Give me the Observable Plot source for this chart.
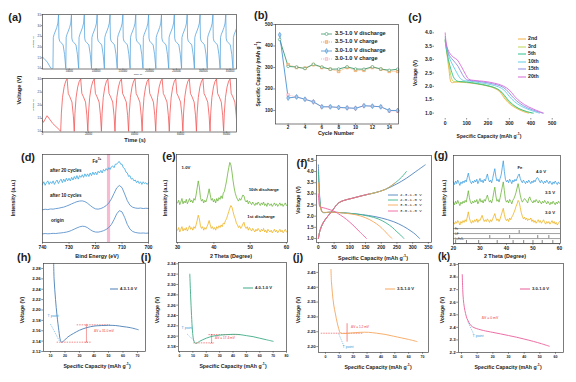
<!DOCTYPE html>
<html><head><meta charset="utf-8">
<script src="https://cdn.jsdelivr.net/npm/d3@7"></script>
<script src="https://cdn.jsdelivr.net/npm/@observablehq/plot@0.6"></script>
<style>
body{margin:0;background:#fff;}
#root{position:relative;width:576px;height:382px;overflow:hidden;background:#fff;font-family:"Liberation Sans",Arial,sans-serif;}
.t{position:absolute;white-space:nowrap;line-height:1;color:#222;}
#root svg{position:absolute;overflow:visible;}
</style></head><body><div id="root"></div><script>
const root = document.getElementById('root');
const FONT = "Liberation Sans, Arial, sans-serif";

// ================= DATA =================
// (a) galvanostatic curves (top: 3.5-1.0 V, bottom: 3.0-1.0 V)
const aTopStartT = [0, 3000, 9000, 16000, 19000];
const aTopStartV = [1.53, 1.47, 1.3, 1.0, 1.0];
const aTopPeaks = [30000, 54000, 78000, 102000, 126000, 150000, 174000, 198000, 222000, 246000, 270000, 294000, 318000, 342000, 366000];
const aTopChargeDt = [-10500, -9800, -8200, -5800, -3300, -1300, 0];
const aTopChargeV = [1.0, 2.45, 2.6, 2.75, 2.92, 3.12, 3.5];
const aTopDisDt = [700, 2000, 5000, 8500, 11200, 13500];
const aTopDisV = [2.42, 2.28, 2.2, 2.1, 1.65, 1.0];
const aTopXTicks = [50000, 100000, 150000, 200000, 250000, 300000, 350000];
const aTopYTicks = [1.0, 1.5, 2.0, 2.5, 3.0, 3.5];

const aBotStartT = [0, 400, 2000, 4500, 7500];
const aBotStartV = [1.42, 1.35, 1.6, 1.3, 1.05];
const aBotPeaks = [10700, 16600, 22500, 28400, 34300, 40200, 46100, 52000, 57900, 63800, 69700, 75600, 81500, 87400];
const aBotChargeDt = [-2800, -2500, -2000, -1300, -600, 0];
const aBotChargeV = [1.0, 1.7, 2.3, 2.7, 2.92, 3.0];
const aBotDisDt = [500, 1200, 2100, 2700, 3100];
const aBotDisV = [2.45, 2.32, 2.12, 1.6, 1.0];
const aBotXTicks = [0, 20000, 40000, 60000, 80000];
const aBotYTicks = [1.0, 1.5, 2.0, 2.5, 3.0];

// (b) cycling
const bCycles = [1,2,3,4,5,6,7,8,9,10,11,12,13,14,15];
const b35Dis = [430,305,302,295,315,302,292,293,303,293,292,303,293,287,292];
const b35Chg = [null,313,300,297,313,300,292,282,300,287,287,300,292,282,282];
const b30Dis = [452,158,163,152,140,117,117,114,112,110,122,120,117,100,100];
const b30Chg = [null,172,163,152,140,117,117,114,112,110,122,120,117,98,97];
const bXTicks = [2,4,6,8,10,12,14];
const bYTicks = [100,200,300,400,500];

// (c) discharge curves
const cLabels = ["2nd","3rd","5th","10th","15th","20th"];
const cColors = ["#f2b143","#bcd654","#2fbf8f","#62cfe6","#8b8fe2","#d66bd8"];
const cCap = [
  [0,4,10,18,25,30,50,100,150,200,230,255,280,305,335,365,390],
  [0,5,12,22,32,40,60,100,150,200,235,260,285,310,340,375,405],
  [0,5,15,28,42,55,70,100,150,200,240,265,290,315,345,380,412],
  [0,6,18,35,55,70,85,120,160,210,250,275,300,325,355,395,440],
  [0,6,20,40,60,80,100,130,170,220,260,285,310,335,365,405,455],
  [0,6,20,40,55,75,95,110,140,180,230,270,300,320,340,370,410,440,460]];
const cVolt = [
  [3.75,3.5,3.1,2.6,2.2,2.14,2.16,2.14,2.09,2.01,1.93,1.8,1.52,1.32,1.17,1.06,1.0],
  [3.7,3.45,3.05,2.6,2.25,2.18,2.18,2.16,2.11,2.03,1.94,1.8,1.53,1.33,1.18,1.07,1.0],
  [3.7,3.4,3.0,2.6,2.3,2.2,2.18,2.16,2.1,2.02,1.92,1.78,1.53,1.33,1.17,1.06,1.0],
  [3.75,3.45,3.1,2.8,2.5,2.3,2.22,2.19,2.14,2.07,1.98,1.86,1.62,1.42,1.26,1.12,1.0],
  [3.85,3.5,3.15,2.95,2.75,2.45,2.25,2.21,2.17,2.1,2.01,1.88,1.65,1.45,1.28,1.13,1.0],
  [4.0,3.55,3.25,3.08,3.0,2.75,2.45,2.27,2.22,2.19,2.12,2.02,1.86,1.67,1.5,1.32,1.16,1.06,1.0]];
const cXTicks = [0,100,200,300,400,500];
const cYTicks = [1.0,1.5,2.0,2.5,3.0,3.5,4.0];

// (d) XPS Fe 2p, 740 -> 700 eV
const dOrigin = [9.8,10.2,9.9,10.1,10.4,10.2,10.6,10.9,11.3,11.8,12.6,13.8,15.2,16.6,17.8,18.5,18.2,16.8,14.6,12.8,11.9,11.8,12.4,13.4,14.8,17.0,20.5,26.0,32.5,36.2,34.8,28.5,20.5,15.2,12.6,11.4,10.9,10.6,10.8,10.5,10.7];
const d10 = [37.2,37.8,37.4,38.1,37.9,38.5,38.9,39.6,40.2,41.3,42.5,43.9,45.2,46.4,47.1,47.3,46.5,44.6,42.1,39.8,38.2,37.9,38.6,39.9,41.8,44.9,49.5,55.8,62.0,64.8,62.4,55.2,47.5,42.4,40.1,39.2,38.8,39.1,38.6,38.9,38.7];
const d20 = [66,69,65,68,70,66,69,67,70,66,69,71,67,70,72,68,72,69,73,70,73,70,74,71,75,72,76,72,76,74,77,74,78,75,78,75,79,76,80,77,80,77,81,79,82,79,83,81,84,82,85,83,86,87,85,89,89,91,92,89,89,85,84,80,79,75,76,72,73,70,71,68,70,67,69,66,69,67,68,66,68];
const dBand = [714.3, 715.5];
const dXTicks = [740,730,720,710,700];

// (e) XRD 30-60 deg, step 0.3
const eOrange = [14,17,12,15,18,13,16,14,17,13,16,19,15,17,14,18,16,20,25,31,27,19,16,18,14,17,15,18,21,25,20,16,18,15,17,14,18,16,19,17,20,18,22,21,25,27,31,35,39,42,40,35,30,27,22,20,17,19,16,18,21,23,18,16,18,14,17,15,13,16,14,12,15,13,16,14,12,15,13,16,12,14,11,15,13,12,14,11,13,15,12,14,11,13,15,12,14,11,13,15,12];
const eGreen = [45,48,43,46,50,44,47,45,49,44,47,50,46,48,45,50,48,54,62,70,63,51,47,49,45,48,46,50,55,61,54,48,50,46,49,45,50,47,51,49,53,50,56,58,64,70,78,85,91,88,80,70,62,56,52,49,47,50,48,51,54,53,48,46,48,44,47,45,43,46,44,42,45,43,46,44,42,45,43,46,42,44,41,45,43,42,44,41,43,45,42,44,41,43,45,42,44,41,43,45,42];
const eXTicks = [30,40,50,60];

// (f) charge/discharge in four windows
const fNames = ["4.3-1.0 V","4.0-1.0 V","3.5-1.0 V","3.0-1.0 V"];
const fColors = ["#4f82bd","#3cb58c","#f7a75a","#f0609e"];
const fDisCap = [
  [0,2,5,9,14,20,40,80,120,160,200,240,270,295,310,322],
  [0,2,5,9,14,20,40,80,120,160,190,215,235,250,262,272],
  [0,2,5,9,14,20,40,80,120,150,175,195,210,222,234],
  [0,2,5,15,30,50,70,90,110,130,153]];
const fDisV = [
  [4.3,3.5,2.7,2.3,2.17,2.16,2.18,2.15,2.1,2.03,1.92,1.75,1.55,1.33,1.17,1.0],
  [4.0,3.4,2.65,2.28,2.17,2.16,2.18,2.15,2.1,2.0,1.88,1.7,1.5,1.3,1.15,1.0],
  [3.5,3.0,2.5,2.25,2.18,2.17,2.18,2.14,2.06,1.93,1.75,1.55,1.35,1.17,1.0],
  [3.0,2.6,2.42,2.38,2.32,2.22,2.05,1.85,1.6,1.32,1.0]];
const fChgCap = [
  [0,5,15,30,42,52,65,80,107,140,180,213,250,280,310,340],
  [0,5,15,30,42,52,65,80,107,140,180,213,245,265,280],
  [0,5,15,30,42,52,65,80,107,140,180,213,245],
  [0,5,15,30,42,52,65,80,107,140,160]];
const fChgV = [
  [1.0,1.35,1.7,2.0,2.2,2.4,2.6,2.7,2.8,2.92,3.05,3.2,3.45,3.7,4.0,4.3],
  [1.0,1.35,1.7,2.0,2.2,2.4,2.6,2.7,2.8,2.92,3.05,3.2,3.5,3.75,4.0],
  [1.0,1.35,1.7,2.0,2.2,2.4,2.6,2.7,2.8,2.92,3.05,3.2,3.5],
  [1.0,1.35,1.7,2.0,2.2,2.4,2.6,2.7,2.8,2.92,3.0]];
const fXTicks = [0,50,100,150,200,250,300,350];
const fYTicks = [1.0,1.5,2.0,2.5,3.0,3.5,4.0,4.5];

// (g) XRD at 3 charge states, 20-60 deg, step 0.4
const gBlue = [70,67,71,68,72,69,66,70,68,71,69,72,70,75,80,74,70,68,71,69,72,70,73,68,71,74,70,72,69,73,71,75,79,73,70,72,69,74,80,85,76,71,73,70,74,78,86,94,82,73,70,72,69,73,71,68,72,70,73,71,74,77,79,74,71,69,72,70,68,71,69,72,70,68,71,69,72,70,73,75,74,71,69,72,70,68,71,69,72,70,68,71,69,67,70,68,71,69,67,70,68];
const gGreen = [47,44,48,45,49,46,43,47,45,48,46,49,47,53,60,52,47,45,48,46,49,47,50,45,48,51,47,49,46,50,48,52,55,50,47,49,46,51,58,64,54,48,50,47,52,58,64,70,60,50,47,49,46,50,48,45,49,51,54,58,63,68,62,55,50,47,49,51,50,48,46,51,53,49,48,46,49,47,50,48,46,49,47,45,48,46,49,47,45,48,46,44,47,45,48,46,44,47,45,48,46];
const gOrange = [24,22,25,23,26,24,21,25,23,26,24,27,25,30,36,29,25,23,26,24,27,25,28,24,27,26,29,32,28,25,27,25,28,26,24,27,25,28,31,34,29,26,28,25,28,32,36,40,33,28,26,28,25,29,27,30,32,35,38,42,45,49,47,41,35,31,28,30,27,29,26,28,27,29,25,27,24,26,23,25,27,24,26,23,25,27,24,22,25,23,25,22,24,26,23,25,22,24,21,23,25];
const gRefRows = [["Fe",[44.8]],["LiF",[33.7,41.2,51.8,56]],["Li₂FeS₂",[20.8,24.9,29.5,36.5,42.5,46.5,50,53.5,57.5]]];
const gXTicks = [20,30,40,50,60];

// (h)-(k) zoomed discharge onset
const hCap = [12.2,12.5,13.5,14.5,15.8,16.8,17.5,19,22,26,30,35,40,45,50,55,60,65,70.5];
const hV = [2.29,2.26,2.22,2.19,2.16,2.142,2.138,2.14,2.148,2.155,2.161,2.166,2.169,2.170,2.1705,2.170,2.168,2.166,2.162];
const iCap = [7.7,8.3,9,9.7,10.5,11.5,12.5,15,20,25,30,35,40,45,50,55,60,65,70];
const iV = [2.32,2.28,2.24,2.21,2.193,2.187,2.186,2.19,2.196,2.2,2.202,2.203,2.2035,2.203,2.201,2.199,2.196,2.193,2.19];
const jCap = [4.0,4.3,5.0,6.0,7.2,8.5,9.6,10.8,14,19,25,31,37,43,49,55,60,66];
const jV = [2.46,2.42,2.38,2.34,2.31,2.28,2.26,2.246,2.244,2.246,2.248,2.248,2.245,2.241,2.235,2.229,2.224,2.217];
const kCap = [0.5,0.8,1.2,1.8,2.6,3.5,4.7,6,8,11,14,20,25,30,35,40,46,51,56];
const kV = [2.82,2.7,2.62,2.56,2.51,2.47,2.44,2.415,2.398,2.385,2.375,2.36,2.348,2.335,2.322,2.307,2.288,2.27,2.25];
const hXTicks = [10,20,30,40,50,60,70], hYTicks = [2.12,2.14,2.16,2.18,2.20,2.22,2.24,2.26,2.28];
const iXTicks = [0,10,20,30,40,50,60,70,80], iYTicks = [2.18,2.20,2.22,2.24,2.26,2.28,2.30,2.32,2.34];
const jXTicks = [0,10,20,30,40,50,60,70], jYTicks = [2.20,2.25,2.30,2.35,2.40,2.45];
const kXTicks = [0,10,20,30,40,50,60], kYTicks = [2.2,2.3,2.4,2.5,2.6,2.7,2.8,2.9];
// annotation guides (data units)
const hGuides = {low: 2.138, lowX: [14.6, 38.1], high: 2.1714, highX: [28.4, 51.4], arrowX: 34.8, t: [10, 2.173, 16.4, 2.139]};
const iGuides = {low: 2.187, lowX: [10.7, 26.2], high: 2.203, highX: [22, 45.6], arrowX: 24, t: [5.8, 2.204, 11.3, 2.19]};
const jGuides = {level: 2.245, levelX: [-3, 27.6], vx: 15.6, vy: [2.215, 2.277], t: [9.6, 2.243, 13.2, 2.203]};
const kGuides = {t: [4, 2.446, 7.9, 2.343]};

// ================= HELPERS =================
function T(s, x, y, o = {}) {
  const d = document.createElement('div');
  d.className = 't';
  d.innerHTML = s;
  d.style.left = x + 'px'; d.style.top = y + 'px';
  d.style.fontSize = (o.size || 6) + 'px';
  d.style.fontWeight = o.bold === false ? 'normal' : 'bold';
  if (o.color) d.style.color = o.color;
  if (o.font) d.style.fontFamily = o.font;
  const tx = o.anchor === 'start' ? '0' : o.anchor === 'end' ? '-100%' : '-50%';
  d.style.transform = `translate(${tx},-50%)` + (o.rot ? ` rotate(${o.rot}deg)` : '');
  if (o.rot) d.style.transformOrigin = (o.anchor === 'start' ? '0%' : '50%') + ' 50%';
  root.append(d);
}
function swatch(x, y, w, color, o = {}) {
  const s = d3.create('svg').attr('width', w).attr('height', 6).style('left', x + 'px').style('top', (y - 3) + 'px');
  s.append('line').attr('x1', 0).attr('x2', w).attr('y1', 3).attr('y2', 3).attr('stroke', color)
    .attr('stroke-width', o.sw || 1).attr('stroke-dasharray', o.dash || null);
  if (o.symbol) s.append('path').attr('d', d3.symbol(o.symbol, o.ss || 7)()).attr('transform', `translate(${w / 2},3)`)
    .attr('fill', o.fill || 'white').attr('stroke', color).attr('stroke-width', 0.6);
  root.append(s.node());
}
function panel(fr, cfg) {
  const [x0, y0, x1, y1] = fr;
  const ml = 28, mr = 8, mt = 8, mb = 14;
  const svg = Plot.plot({
    width: x1 - x0 + ml + mr, height: y1 - y0 + mt + mb,
    marginLeft: ml, marginRight: mr, marginTop: mt, marginBottom: mb,
    style: {fontSize: (cfg.fs || 4.6) + 'px', fontWeight: cfg.fw || 'bold', fontFamily: FONT, background: 'transparent', overflow: 'visible', color: '#222'},
    x: Object.assign({label: null}, cfg.x),
    y: Object.assign({label: null}, cfg.y),
    marks: cfg.marks
  });
  svg.style.position = 'absolute';
  svg.style.left = (x0 - ml) + 'px'; svg.style.top = (y0 - mt) + 'px';
  root.append(svg);
}
const frame = () => Plot.frame({stroke: '#444', strokeWidth: 0.7});
const ax = (ticks, fmt, extra = {}) => Plot.axisX(Object.assign({ticks, tickFormat: fmt, tickSize: 1.8, tickPadding: 1, stroke: '#444', strokeWidth: 0.6}, extra));
const ay = (ticks, fmt, extra = {}) => Plot.axisY(Object.assign({ticks, tickFormat: fmt, tickSize: 1.8, tickPadding: 1, stroke: '#444', strokeWidth: 0.6}, extra));
function cycles(st, sv, peaks, cdt, cv, ddt, dv) {
  const out = st.map((t, i) => ({t, v: sv[i]}));
  for (const p of peaks) {
    cdt.forEach((dt, i) => out.push({t: p + dt, v: cv[i]}));
    ddt.forEach((dt, i) => out.push({t: p + dt, v: dv[i]}));
  }
  return out;
}
const series = (xs, ys) => xs.map((x, i) => ({x, y: ys[i]}));
const spectrum = (start, step, ys) => ys.map((y, i) => ({x: start + step * i, y}));
const RED = '#ee3b3b', TBLUE = '#3a9ad9';

// ================= (a) =================
const aTop = cycles(aTopStartT, aTopStartV, aTopPeaks, aTopChargeDt, aTopChargeV, aTopDisDt, aTopDisV);
const aBot = cycles(aBotStartT, aBotStartV, aBotPeaks, aBotChargeDt, aBotChargeV, aBotDisDt, aBotDisV);
panel([42, 14, 236, 68.5], {fs: 2.6, fw: 'normal',
  x: {domain: [0, 362000]}, y: {domain: [0.98, 3.52]},
  marks: [Plot.line(aTop, {x: 't', y: 'v', stroke: '#5aa6dd', strokeWidth: 0.8, clip: true}), frame(),
    ax(aTopXTicks, d => String(d), {tickSize: 1, tickPadding: 0.4}), ay(aTopYTicks, d3.format('.1f'), {tickSize: 1, tickPadding: 0.5})]});
panel([42, 78, 236, 131.5], {fs: 2.6, fw: 'normal',
  x: {domain: [0, 84300]}, y: {domain: [0.98, 3.02]},
  marks: [Plot.line(aBot, {x: 't', y: 'v', stroke: '#f25656', strokeWidth: 0.8, clip: true}), frame(),
    ax(aBotXTicks, d => String(d), {tickSize: 1, tickPadding: 0.4}), ay(aBotYTicks, d3.format('.1f'), {tickSize: 1, tickPadding: 0.5})]});
T('(a)', 15, 17, {size: 11});
T('Voltage (V)', 20, 90, {size: 5.6, rot: -90});
T('Time (s)', 135, 140.5, {size: 5.6});
T('Voltage (V)', 33.5, 42, {size: 2.4, rot: -90, bold: false});
T('Voltage (V)', 33.5, 105, {size: 2.4, rot: -90, bold: false});
T('Time (s)', 138, 74.8, {size: 2.4, bold: false});

// ================= (b) =================
const bData = (vals) => bCycles.map((c, i) => ({c, v: vals[i]})).filter(d => d.v != null);
panel([275, 24, 398, 123.5], {fs: 4.6,
  x: {domain: [0.5, 15.1]}, y: {domain: [37, 500]},
  marks: [
    Plot.line(bData(b35Chg), {x: 'c', y: 'v', stroke: '#f4b27a', strokeWidth: 0.6, strokeDasharray: '1,1'}),
    Plot.line(bData(b30Chg), {x: 'c', y: 'v', stroke: '#f4b6c4', strokeWidth: 0.6, strokeDasharray: '1,1'}),
    Plot.line(bData(b35Dis), {x: 'c', y: 'v', stroke: '#3e9a6c', strokeWidth: 0.9}),
    Plot.line(bData(b30Dis), {x: 'c', y: 'v', stroke: '#4a92d4', strokeWidth: 0.9}),
    Plot.dot(bData(b35Chg), {x: 'c', y: 'v', symbol: 'square', r: 1.5, stroke: '#f0994a', fill: '#fbd5b0', strokeWidth: 0.6}),
    Plot.dot(bData(b30Chg), {x: 'c', y: 'v', symbol: 'square', r: 1.5, stroke: '#f2a6b8', fill: '#fce3ea', strokeWidth: 0.6}),
    Plot.dot(bData(b35Dis), {x: 'c', y: 'v', symbol: 'circle', r: 1.3, stroke: '#3e9a6c', fill: 'white', strokeWidth: 0.6}),
    Plot.dot(bData(b30Dis), {x: 'c', y: 'v', symbol: 'diamond', r: 1.5, stroke: '#4a92d4', fill: '#a9d0f2', strokeWidth: 0.6}),
    frame(), ax(bXTicks, d => String(d), {tickPadding: 0.3, tickSize: 1.3}), ay(bYTicks, d => String(d))]});
T('(b)', 261, 15, {size: 11});
T('Specific Capacity (mAh g<sup style="font-size:70%">-1</sup>)', 258, 74, {size: 5, rot: -90});
T('Cycle Number', 336, 134, {size: 5.4});
const bLeg = [['3.5-1.0 V discharge', '#3e9a6c', null, 'circle', 'white'], ['3.5-1.0 V charge', '#f0994a', '1,1', 'square', '#fbd5b0'], ['3.0-1.0 V discharge', '#4a92d4', null, 'diamond', '#a9d0f2'], ['3.0-1.0 V charge', '#f2a6b8', '1,1', 'square', '#fce3ea']];
bLeg.forEach((l, i) => { swatch(321, 34 + i * 8.3, 11, l[1], {dash: l[2], symbol: d3['symbol' + l[3][0].toUpperCase() + l[3].slice(1)], fill: l[4], sw: 0.8}); T(l[0], 335, 34 + i * 8.3, {size: 5.6, anchor: 'start'}); });

// ================= (c) =================
const cMarks = cCap.map((caps, k) => Plot.line(series(caps, cVolt[k]), {x: 'x', y: 'y', stroke: cColors[k], strokeWidth: 0.9, curve: 'catmull-rom'}));
panel([434, 27, 556, 118], {fs: 5,
  x: {domain: [-50, 520]}, y: {domain: [0.8, 4.2]},
  marks: [...cMarks, ax(cXTicks, d => String(d), {tickSize: 1.5}), ay(cYTicks, d3.format('.1f'), {tickSize: 1.5})]});
T('(c)', 415, 17, {size: 11});
T('Voltage (V)', 415, 73, {size: 5, rot: -90});
T('Specific Capacity (mAh g<sup style="font-size:70%">-1</sup>)', 489, 136, {size: 5});
cLabels.forEach((l, i) => { swatch(518, 39 + i * 7.6, 8, cColors[i], {sw: 1}); T(l, 528, 39 + i * 7.6, {size: 5.2, anchor: 'start'}); });

// ================= (d) =================
panel([42, 154, 148, 242], {fs: 4.8,
  x: {domain: [740, 700]}, y: {domain: [0, 100], axis: null},
  marks: [
    Plot.rect([dBand], {x1: d => d[0], x2: d => d[1], y1: 0, y2: 100, fill: '#f4aecb', fillOpacity: 0.85}),
    Plot.line(spectrum(740, -1, dOrigin), {x: 'x', y: 'y', stroke: '#4a86c6', strokeWidth: 0.8}),
    Plot.line(spectrum(740, -1, d10), {x: 'x', y: 'y', stroke: '#4a86c6', strokeWidth: 0.8}),
    Plot.line(spectrum(740, -0.5, d20), {x: 'x', y: 'y', stroke: '#39a8e2', strokeWidth: 0.8}),
    frame(), ax(dXTicks, d => String(d))]});
T('(d)', 28, 157, {size: 11});
T('Intensity (a.u.)', 14, 198, {size: 5.4, rot: -90});
T('Bind Energy (eV)', 97, 256.5, {size: 5.4});
T('Fe<sup style="font-size:70%">3+</sup>', 97, 161, {size: 4.5});
T('after 20 cycles', 50, 171, {size: 4.6, anchor: 'start'});
T('after 10 cycles', 50, 196, {size: 4.6, anchor: 'start'});
T('origin', 51, 221, {size: 4.6, anchor: 'start'});

// ================= (e) =================
panel([176, 154, 287, 242], {fs: 4.8,
  x: {domain: [29.7, 60.3]}, y: {domain: [0, 100], axis: null},
  marks: [
    Plot.line(spectrum(30, 0.3, eOrange), {x: 'x', y: 'y', stroke: '#efb21d', strokeWidth: 0.8}),
    Plot.line(spectrum(30, 0.3, eGreen), {x: 'x', y: 'y', stroke: '#6bb53a', strokeWidth: 0.8}),
    frame(), ax(eXTicks, d => String(d))]});
T('(e)', 169, 156, {size: 11});
T('Intensity (a.u.)', 166, 198, {size: 5.4, rot: -90});
T('2 Theta (Degree)', 231, 256.5, {size: 5.4});
T('1.0V', 186, 168, {size: 4.3});
T('10th discharge', 279, 190, {size: 4.3, anchor: 'end'});
T('1st discharge', 275, 217, {size: 4.3, anchor: 'end'});

// ================= (f) =================
const fMarks = [];
fDisCap.forEach((caps, k) => {
  fMarks.push(Plot.line(series(caps, fDisV[k]), {x: 'x', y: 'y', stroke: fColors[k], strokeWidth: 0.9, curve: 'catmull-rom'}));
  fMarks.push(Plot.line(series(fChgCap[k], fChgV[k]), {x: 'x', y: 'y', stroke: fColors[k], strokeWidth: 0.9, curve: 'catmull-rom'}));
});
panel([316, 155, 431, 242], {fs: 4.8,
  x: {domain: [-6, 360]}, y: {domain: [0.82, 4.72]},
  marks: [...fMarks, frame(), ax(fXTicks, d => String(d)), ay(fYTicks, d3.format('.1f'))]});
T('(f)', 302, 163, {size: 11});
T('Voltage (V)', 299, 200, {size: 5.4, rot: -90});
T('Specific Capacity (mAh g<sup style="font-size:70%">-1</sup>)', 373, 257.5, {size: 5.4});
fNames.forEach((n, i) => { swatch(388, 195 + i * 5.2, 10, fColors[i], {sw: 0.9}); T(n, 400, 195 + i * 5.2, {size: 4, anchor: 'start', bold: false, font: 'Liberation Mono, monospace'}); });

// ================= (g) =================
const gRefMarks = [];
gRefRows.forEach((row, r) => {
  const top = 17 - r * 5.7, bot = top - 5.7;
  gRefMarks.push(Plot.ruleY([bot], {stroke: '#444', strokeWidth: 0.5}));
  gRefMarks.push(Plot.ruleX(row[1], {y1: bot, y2: bot + 3.5, stroke: '#333', strokeWidth: 0.6}));
});
gRefMarks.push(Plot.ruleY([17], {stroke: '#444', strokeWidth: 0.5}));
panel([453, 155, 560, 243], {fs: 4.8,
  x: {domain: [20, 60.4]}, y: {domain: [0, 100], axis: null},
  marks: [
    Plot.line(spectrum(20, 0.4, gOrange), {x: 'x', y: 'y', stroke: '#efb21d', strokeWidth: 0.8}),
    Plot.line(spectrum(20, 0.4, gGreen), {x: 'x', y: 'y', stroke: '#6bb53a', strokeWidth: 0.8}),
    Plot.line(spectrum(20, 0.4, gBlue), {x: 'x', y: 'y', stroke: '#3d9fe2', strokeWidth: 0.8}),
    ...gRefMarks, frame(), ax(gXTicks, d => String(d))]});
T('(g)', 441, 155, {size: 11});
T('Intensity (a.u.)', 445, 198, {size: 5.4, rot: -90});
T('2 Theta (Degree)', 505, 256.5, {size: 5.4});
T('Fe', 520, 168, {size: 4.3});
T('4.0 V', 541, 172, {size: 4.3});
T('3.5 V', 550, 193, {size: 4.3});
T('3.0 V', 550, 213, {size: 4.3});
gRefRows.forEach((row, r) => T(row[0], 455, 230 + r * 5, {size: 2.6, anchor: 'start', bold: false}));

// ================= (h)-(k) =================
function guideMarks(g) {
  const m = [];
  if (g.low != null) {
    m.push(Plot.ruleY([g.low], {x1: g.lowX[0], x2: g.lowX[1], stroke: RED, strokeWidth: 0.6, strokeDasharray: '1.5,1'}));
    m.push(Plot.ruleY([g.high], {x1: g.highX[0], x2: g.highX[1], stroke: RED, strokeWidth: 0.6, strokeDasharray: '1.5,1'}));
    m.push(Plot.link([g], {x1: d => d.arrowX, x2: d => d.arrowX, y1: d => d.low, y2: d => d.high, stroke: RED, strokeWidth: 0.5, markerStart: 'arrow', markerEnd: 'arrow'}));
  }
  if (g.level != null) {
    m.push(Plot.ruleY([g.level], {x1: g.levelX[0], x2: g.levelX[1], stroke: RED, strokeWidth: 0.6, strokeDasharray: '1.5,1'}));
    m.push(Plot.ruleX([g.vx], {y1: g.vy[0], y2: g.vy[1], stroke: RED, strokeWidth: 0.6}));
  }
  m.push(Plot.link([g.t], {x1: d => d[0], y1: d => d[1], x2: d => d[2], y2: d => d[3], stroke: TBLUE, strokeWidth: 0.6, strokeDasharray: '1,1'}));
  return m;
}
function small(fr, xd, yd, xt, yt, yfmt, cap, v, color, guides) {
  panel(fr, {fs: 4.4,
    x: {domain: xd}, y: {domain: yd},
    marks: [...guideMarks(guides), Plot.line(series(cap, v), {x: 'x', y: 'y', stroke: color, strokeWidth: 0.9, curve: 'catmull-rom', clip: true}),
      frame(), ax(xt, d => String(d), {fontSize: 3.6}), ay(yt, d3.format(yfmt))]});
}
small([43, 263, 145, 351], [5.2, 75.5], [2.12, 2.2896], hXTicks, hYTicks, '.2f', hCap, hV, '#4a7fb7', hGuides);
small([178, 262, 286, 351], [-0.75, 80], [2.1703, 2.3425], iXTicks, iYTicks, '.2f', iCap, iV, '#3dab85', iGuides);
small([318, 263, 428, 352], [-5, 74.3], [2.18, 2.48], jXTicks, jYTicks, '.2f', jCap, jV, '#f6a65c', jGuides);
small([458, 263, 563, 352], [-1.9, 65.1], [2.2, 2.908], kXTicks, kYTicks, '.1f', kCap, kV, '#ea5f9b', kGuides);
const capLbl = 'Specific Capacity (mAh g<sup style="font-size:70%">-1</sup>)';
T('(h)', 24, 257, {size: 11}); T('(i)', 146, 257, {size: 11}); T('(j)', 298, 257, {size: 11}); T('(k)', 444, 256.8, {size: 10});
T('Voltage (V)', 23, 310, {size: 5.2, rot: -90}); T('Voltage (V)', 158, 310, {size: 5.2, rot: -90});
T('Voltage (V)', 299, 310, {size: 5.2, rot: -90}); T('Voltage (V)', 443, 310, {size: 5.2, rot: -90});
T(capLbl, 97, 365.5, {size: 5.2}); T(capLbl, 233, 365.5, {size: 5.2}); T(capLbl, 378, 367, {size: 5.2}); T(capLbl, 508, 367, {size: 5.2});
swatch(110, 289, 8, '#4a7fb7', {sw: 1}); T('4.3-1.0 V', 120, 289, {size: 4.2, anchor: 'start'});
swatch(243, 288, 10, '#3dab85', {sw: 1}); T('4.0-1.0 V', 255, 288, {size: 4.2, anchor: 'start'});
swatch(385, 289, 10, '#f6a65c', {sw: 1}); T('3.5-1.0 V', 397, 289, {size: 4.2, anchor: 'start'});
swatch(520, 289, 10, '#ea5f9b', {sw: 1}); T('3.0-1.0 V', 532, 289, {size: 4.2, anchor: 'start'});
T('T point', 53, 317, {size: 3.6, color: TBLUE, bold: false});
T('ΔV = 31.0 mV', 104, 332, {size: 3.2, color: RED, bold: false});
T('T point', 187, 329, {size: 3.6, color: TBLUE, bold: false});
T('ΔV = 17.4 mV', 225, 339, {size: 3.2, color: RED, bold: false});
T('T point', 348, 348, {size: 3.6, color: TBLUE, bold: false});
T('ΔV = 1.2 mV', 360, 328, {size: 3.2, color: RED, bold: false});
T('ΔV = 0 mV', 490, 319, {size: 3.4, color: RED, bold: false});
T('T point', 478, 337, {size: 3.6, color: TBLUE, bold: false});
</script></body></html>
